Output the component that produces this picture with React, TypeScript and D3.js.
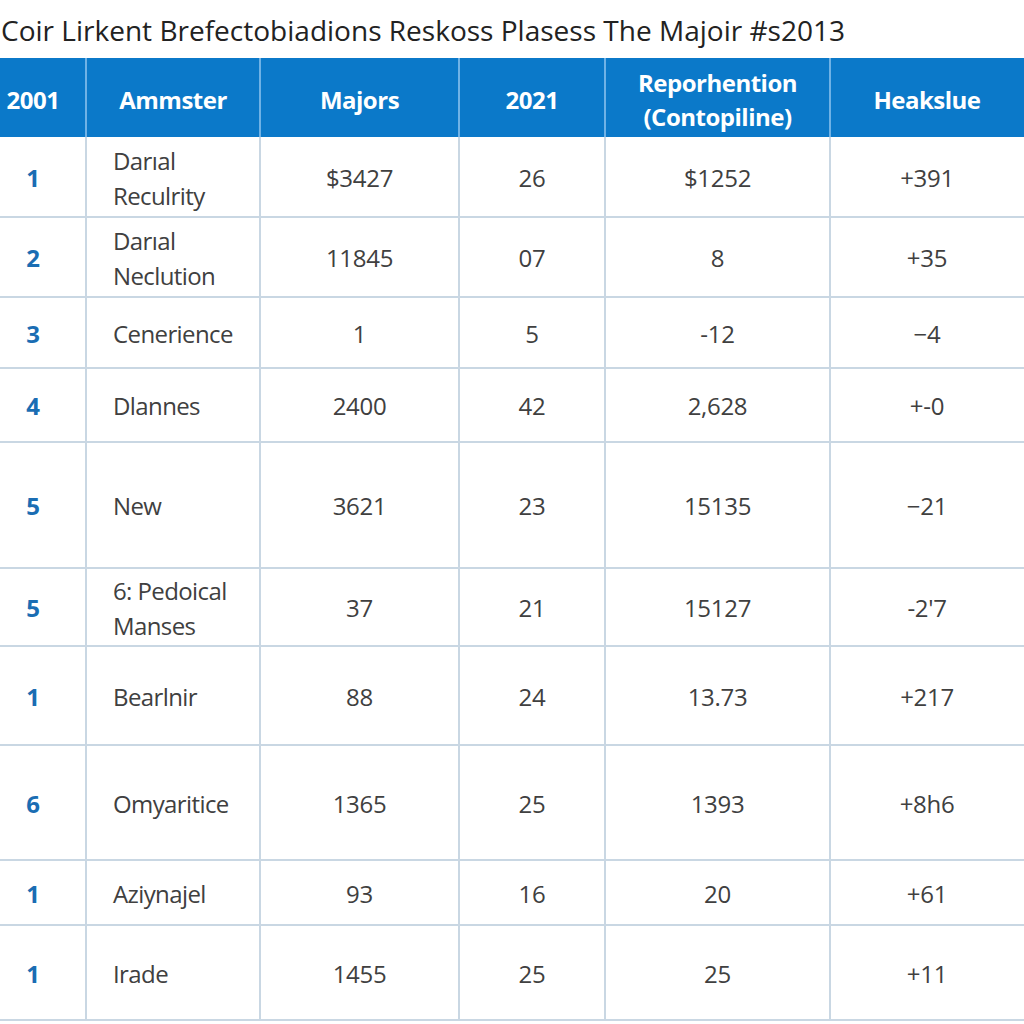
import React from "react";
import * as d3 from "d3";

const title = "Coir Lirkent Brefectobiadions Reskoss Plasess The Majoir #s2013";
const headers = ["2001", "Ammster", "Majors", "2021", "Reporhention\n(Contopiline)", "Heakslue"];
const ranks = ["1", "2", "3", "4", "5", "5", "1", "6", "1", "1"];
const names = [
  "Darıal\nReculrity",
  "Darıal\nNeclution",
  "Cenerience",
  "Dlannes",
  "New",
  "6: Pedoical\nManses",
  "Bearlnir",
  "Omyaritice",
  "Aziynajel",
  "Irade",
];
const majors = ["$3427", "11845", "1", "2400", "3621", "37", "88", "1365", "93", "1455"];
const y2021 = ["26", "07", "5", "42", "23", "21", "24", "25", "16", "25"];
const repor = ["$1252", "8", "-12", "2,628", "15135", "15127", "13.73", "1393", "20", "25"];
const heak = ["+391", "+35", "−4", "+-0", "−21", "-2'7", "+217", "+8h6", "+61", "+11"];

// layout
const W = 1024;
const H = 1024;
const colWidths = [86, 174, 199, 146, 225, 194];
const headerTop = 58;
const headerH = 79;
const rowHeights = [80, 80, 71, 74, 126, 78, 99, 115, 65, 95];

const BLUE = "#0b79c9";
const GRID = "#c9d7e3";
const TEXT = "#404040";
const RANK = "#1a6db3";
const FONT = "'Open Sans', 'Noto Sans', sans-serif";

export default function App() {
  const colEdges = [0, ...d3.cumsum(colWidths)];
  const xEdge = (i: number) => colEdges[i];
  const xCenter = (i: number) => (i === 0 ? 33 : (colEdges[i] + colEdges[i + 1]) / 2);
  const rowEdges = [0, ...d3.cumsum(rowHeights)].map((v) => headerTop + headerH + v);
  const yScale = d3
    .scaleOrdinal<number, number>()
    .domain(d3.range(rowHeights.length))
    .range(rowHeights.map((_, i) => (rowEdges[i] + rowEdges[i + 1]) / 2));

  const columns = [ranks, names, majors, y2021, repor, heak];
  const lineGap = 35;

  const renderLines = (txt: string, x: number, cy: number, props: any, key: string, gap = lineGap) => {
    const lines = txt.split("\n");
    const off = ((lines.length - 1) * gap) / 2;
    return (
      <text key={key} x={x} y={cy - off} dominantBaseline="central" {...props}>
        {lines.map((l, j) => (
          <tspan key={j} x={x} dy={j === 0 ? 0 : gap}>
            {l}
          </tspan>
        ))}
      </text>
    );
  };

  return (
    <svg
      width={W}
      height={H}
      viewBox={`0 0 ${W} ${H}`}
      style={{ position: "absolute", left: 0, top: 0, background: "#fff" }}
    >
      <rect x={0} y={0} width={W} height={H} fill="#fff" />
      <text
        x={1}
        y={30}
        fontFamily={FONT}
        fontSize={28}
        fill="#222"
        dominantBaseline="central"
        textLength={844}
        lengthAdjust="spacingAndGlyphs"
      >
        {title}
      </text>

      {/* header band */}
      <rect x={0} y={headerTop} width={W} height={headerH} fill={BLUE} />
      {colEdges.slice(1, colEdges.length - 1).map((x, i) => (
        <line key={"hs" + i} x1={x} x2={x} y1={headerTop} y2={headerTop + headerH} stroke="#6fb2e6" strokeWidth={2} />
      ))}
      {headers.map((h, i) =>
        renderLines(
          h,
          xCenter(i),
          headerTop + headerH / 2 + 1,
          { fontFamily: FONT, fontSize: 24, fontWeight: 700, fill: "#fff", textAnchor: "middle", letterSpacing: -0.5 },
          "h" + i,
          34
        )
      )}

      {/* grid */}
      {rowEdges.slice(1).map((y, i) => (
        <line key={"rl" + i} x1={0} x2={W} y1={y} y2={y} stroke={GRID} strokeWidth={2} />
      ))}
      {colEdges.slice(1, colEdges.length - 1).map((x, i) => (
        <line key={"cl" + i} x1={x} x2={x} y1={headerTop + headerH} y2={rowEdges[rowEdges.length - 1]} stroke={GRID} strokeWidth={2} />
      ))}

      {/* cells */}
      {columns.map((col, c) =>
        col.map((v, r) => {
          const cy = yScale(r);
          if (c === 0)
            return renderLines(v, xCenter(0), cy, { fontFamily: FONT, fontSize: 24, fontWeight: 700, fill: RANK, textAnchor: "middle" }, `c${c}-${r}`);
          if (c === 1)
            return renderLines(v, xEdge(1) + 27, cy, { fontFamily: FONT, fontSize: 24, fill: TEXT, textAnchor: "start", letterSpacing: -0.6 }, `c${c}-${r}`);
          return renderLines(v, xCenter(c), cy, { fontFamily: FONT, fontSize: 24, fill: TEXT, textAnchor: "middle", letterSpacing: -0.3 }, `c${c}-${r}`);
        })
      )}
    </svg>
  );
}
